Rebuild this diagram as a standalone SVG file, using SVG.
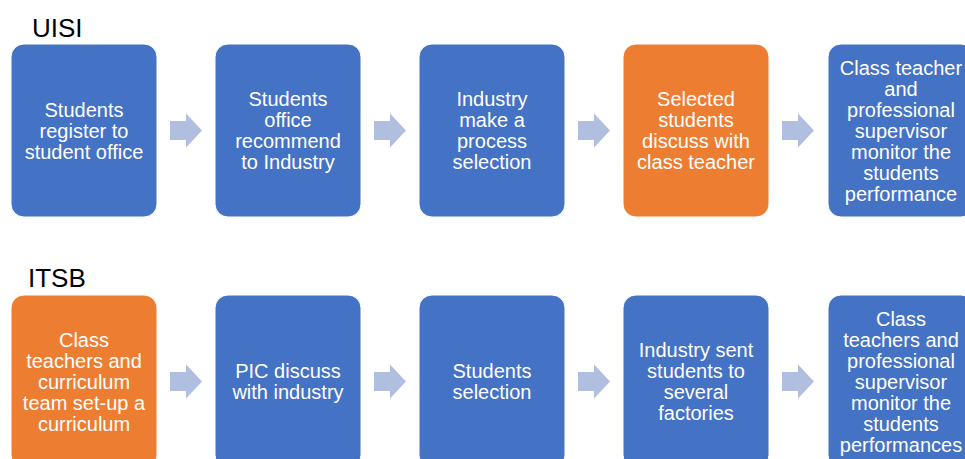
<svg xmlns="http://www.w3.org/2000/svg" width="965" height="459" viewBox="0 0 965 459">
<style>
.box{stroke:#FFFFFF;stroke-width:1}
.blue{fill:#4472C4}
.orange{fill:#ED7D31}
.t{font-family:"Liberation Sans",Arial,sans-serif;font-size:20px;fill:#FFFFFF;text-anchor:middle}
.h{font-family:"Liberation Sans",Arial,sans-serif;font-size:26px;fill:#000000}
.arr{fill:#B0BEE0}
</style>
<defs>
<path id="arrow" d="M0,-9.5 H16 V-17 L32,0 L16,17 V9.5 H0 Z"/>
</defs>
<rect width="965" height="459" fill="#FFFFFF"/>
<text class="h" x="32" y="37">UISI</text>
<text class="h" x="28" y="287">ITSB</text>

<g id="connectors" class="arr">
<use href="#arrow" x="170" y="130.5"/>
<use href="#arrow" x="374" y="130.5"/>
<use href="#arrow" x="578" y="130.5"/>
<use href="#arrow" x="782" y="130.5"/>
<use href="#arrow" x="170" y="381.5"/>
<use href="#arrow" x="374" y="381.5"/>
<use href="#arrow" x="578" y="381.5"/>
<use href="#arrow" x="782" y="381.5"/>
</g>

<g id="u1">
<rect class="box blue" x="11" y="44" width="146" height="173" rx="13"/>
<text class="t" x="84"><tspan x="84" y="116.5">Students</tspan><tspan x="84" y="137.5">register to</tspan><tspan x="84" y="158.5">student office</tspan></text>
</g>
<g id="u2">
<rect class="box blue" x="215" y="44" width="146" height="173" rx="13"/>
<text class="t"><tspan x="288" y="106">Students</tspan><tspan x="288" y="127">office</tspan><tspan x="288" y="148">recommend</tspan><tspan x="288" y="169">to Industry</tspan></text>
</g>
<g id="u3">
<rect class="box blue" x="419" y="44" width="146" height="173" rx="13"/>
<text class="t"><tspan x="492" y="106">Industry</tspan><tspan x="492" y="127">make a</tspan><tspan x="492" y="148">process</tspan><tspan x="492" y="169">selection</tspan></text>
</g>
<g id="u4">
<rect class="box orange" x="623" y="44" width="146" height="173" rx="13"/>
<text class="t"><tspan x="696" y="106">Selected</tspan><tspan x="696" y="127">students</tspan><tspan x="696" y="148">discuss with</tspan><tspan x="696" y="169">class teacher</tspan></text>
</g>
<g id="u5">
<rect class="box blue" x="828" y="44" width="146" height="173" rx="13"/>
<text class="t"><tspan x="901" y="74.5">Class teacher</tspan><tspan x="901" y="95.5">and</tspan><tspan x="901" y="116.5">professional</tspan><tspan x="901" y="137.5">supervisor</tspan><tspan x="901" y="158.5">monitor the</tspan><tspan x="901" y="179.5">students</tspan><tspan x="901" y="200.5">performance</tspan></text>
</g>

<g id="i1">
<rect class="box orange" x="11" y="295" width="146" height="173" rx="13"/>
<text class="t"><tspan x="84" y="346.5">Class</tspan><tspan x="84" y="367.5">teachers and</tspan><tspan x="84" y="388.5">curriculum</tspan><tspan x="84" y="409.5">team set-up a</tspan><tspan x="84" y="430.5">curriculum</tspan></text>
</g>
<g id="i2">
<rect class="box blue" x="215" y="295" width="146" height="173" rx="13"/>
<text class="t"><tspan x="288" y="378">PIC discuss</tspan><tspan x="288" y="399">with industry</tspan></text>
</g>
<g id="i3">
<rect class="box blue" x="419" y="295" width="146" height="173" rx="13"/>
<text class="t"><tspan x="492" y="378">Students</tspan><tspan x="492" y="399">selection</tspan></text>
</g>
<g id="i4">
<rect class="box blue" x="623" y="295" width="146" height="173" rx="13"/>
<text class="t"><tspan x="696" y="357">Industry sent</tspan><tspan x="696" y="378">students to</tspan><tspan x="696" y="399">several</tspan><tspan x="696" y="420">factories</tspan></text>
</g>
<g id="i5">
<rect class="box blue" x="828" y="295" width="146" height="173" rx="13"/>
<text class="t"><tspan x="901" y="325.5">Class</tspan><tspan x="901" y="346.5">teachers and</tspan><tspan x="901" y="367.5">professional</tspan><tspan x="901" y="388.5">supervisor</tspan><tspan x="901" y="409.5">monitor the</tspan><tspan x="901" y="430.5">students</tspan><tspan x="901" y="451.5">performances</tspan></text>
</g>
</svg>
